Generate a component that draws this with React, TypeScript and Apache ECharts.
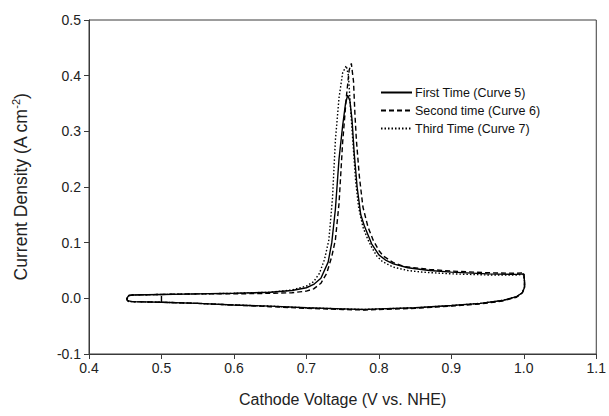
import React, { useEffect, useRef } from "react";
import * as echarts from "echarts";

// Tick labels
const xTicks = [0.4, 0.5, 0.6, 0.7, 0.8, 0.9, 1.0, 1.1];
const yTicks = [-0.1, 0.0, 0.1, 0.2, 0.3, 0.4, 0.5];

const seriesNames = ["First Time (Curve 5)", "Second time (Curve 6)", "Third Time (Curve 7)"];

// Curve 5 (solid): [voltage, current density]
const curve5: number[][] = [
  [0.5, 0.004], [0.5, -0.007], [0.46, -0.006], [0.453, -0.004], [0.452, 0.0], [0.455, 0.005],
  [0.46, 0.006], [0.5, 0.007], [0.55, 0.008], [0.6, 0.009], [0.65, 0.011], [0.68, 0.014],
  [0.7, 0.019], [0.71, 0.025], [0.72, 0.036], [0.73, 0.065], [0.735, 0.1], [0.74, 0.16],
  [0.745, 0.25], [0.75, 0.31], [0.754, 0.35], [0.757, 0.365], [0.76, 0.355], [0.763, 0.32],
  [0.766, 0.26], [0.77, 0.2], [0.775, 0.15], [0.78, 0.13], [0.79, 0.098], [0.8, 0.078],
  [0.81, 0.068], [0.82, 0.062], [0.84, 0.055], [0.87, 0.05], [0.9, 0.047], [0.95, 0.044],
  [0.99, 0.043], [1.0, 0.044], [1.001, 0.03], [1.001, 0.02], [0.998, 0.01], [0.99, 0.003],
  [0.97, -0.004], [0.94, -0.009], [0.9, -0.013], [0.85, -0.017], [0.8, -0.019], [0.78, -0.02],
  [0.75, -0.019], [0.7, -0.017], [0.65, -0.014], [0.6, -0.012], [0.55, -0.009], [0.5, -0.007],
];

// Curve 6 (dashed)
const curve6: number[][] = [
  [0.455, -0.006], [0.452, -0.002], [0.455, 0.005], [0.46, 0.006], [0.5, 0.007], [0.55, 0.008],
  [0.6, 0.008], [0.65, 0.009], [0.68, 0.01], [0.7, 0.013], [0.71, 0.017], [0.72, 0.027],
  [0.728, 0.045], [0.735, 0.075], [0.74, 0.105], [0.745, 0.17], [0.75, 0.28], [0.755, 0.36],
  [0.759, 0.41], [0.762, 0.422], [0.765, 0.39], [0.767, 0.33], [0.769, 0.284], [0.773, 0.22],
  [0.778, 0.164], [0.785, 0.128], [0.792, 0.105], [0.8, 0.086], [0.806, 0.076], [0.82, 0.064],
  [0.835, 0.057], [0.87, 0.052], [0.9, 0.049], [0.95, 0.046], [0.99, 0.045], [1.0, 0.046],
  [1.001, 0.03], [1.001, 0.02], [0.998, 0.01], [0.99, 0.002], [0.97, -0.005], [0.94, -0.01],
  [0.9, -0.014], [0.85, -0.018], [0.8, -0.02], [0.78, -0.021], [0.75, -0.02], [0.7, -0.018],
  [0.65, -0.015], [0.6, -0.012], [0.55, -0.009], [0.5, -0.007], [0.46, -0.006], [0.455, -0.006],
];

// Curve 7 (dotted)
const curve7: number[][] = [
  [0.455, -0.006], [0.452, -0.002], [0.455, 0.005], [0.46, 0.006], [0.5, 0.007], [0.55, 0.008],
  [0.6, 0.009], [0.65, 0.011], [0.68, 0.015], [0.7, 0.022], [0.71, 0.03], [0.718, 0.045],
  [0.725, 0.07], [0.731, 0.105], [0.736, 0.18], [0.74, 0.284], [0.745, 0.36], [0.75, 0.405],
  [0.755, 0.418], [0.758, 0.4], [0.761, 0.34], [0.764, 0.284], [0.768, 0.21], [0.772, 0.164],
  [0.778, 0.128], [0.785, 0.105], [0.79, 0.092], [0.797, 0.076], [0.805, 0.066], [0.82, 0.056],
  [0.84, 0.05], [0.86, 0.047], [0.9, 0.044], [0.95, 0.042], [0.99, 0.042], [1.0, 0.043],
  [1.001, 0.03], [1.001, 0.02], [0.998, 0.01], [0.99, 0.003], [0.97, -0.004], [0.94, -0.009],
  [0.9, -0.013], [0.85, -0.017], [0.8, -0.019], [0.78, -0.02], [0.75, -0.019], [0.7, -0.017],
  [0.65, -0.014], [0.6, -0.012], [0.55, -0.009], [0.5, -0.007], [0.46, -0.006], [0.455, -0.006],
];

const curves = [curve5, curve6, curve7];
const lineTypes: any[] = ["solid", [5, 3], [1.5, 2]];

const FONT = "Liberation Sans, Arial, Helvetica, sans-serif";
const AXIS_COLOR = "#3a3a3a";

export default function App() {
  const ref = useRef<HTMLDivElement>(null);
  useEffect(() => {
    if (!ref.current) return;
    const chart = echarts.init(ref.current, undefined, { renderer: "svg" });
    chart.setOption({
      animation: false,
      backgroundColor: "#ffffff",
      textStyle: { fontFamily: FONT },
      grid: {
        left: 89,
        right: 12,
        top: 20,
        bottom: 62,
        show: true,
        borderColor: AXIS_COLOR,
        borderWidth: 1,
      },
      legend: {
        orient: "vertical",
        left: 375,
        top: 81,
        itemWidth: 31,
        itemHeight: 10,
        itemGap: 5,
        data: seriesNames,
        itemStyle: { opacity: 0 },
        textStyle: { fontSize: 12.5, color: "#111", fontFamily: FONT, padding: [0, 0, 0, -2] },
      },
      xAxis: {
        type: "value",
        min: 0.4,
        max: 1.1,
        interval: 0.1,
        name: "Cathode Voltage (V vs. NHE)",
        nameLocation: "middle",
        nameGap: 37,
        nameTextStyle: { fontSize: 16, color: "#222", fontFamily: FONT },
        axisLine: { show: true, onZero: false, lineStyle: { color: AXIS_COLOR, width: 1 } },
        axisTick: { show: true, inside: false, length: 5, lineStyle: { color: AXIS_COLOR } },
        axisLabel: {
          fontSize: 14,
          color: "#222",
          margin: 7,
          formatter: (v: number) => {
            const t = xTicks.find((x) => Math.abs(x - v) < 1e-6);
            return t === undefined ? "" : t.toFixed(1);
          },
        },
        splitLine: { show: false },
      },
      yAxis: {
        type: "value",
        min: -0.1,
        max: 0.5,
        interval: 0.1,
        name: "Current Density (A cm{sup|-2}{n|)}",
        nameLocation: "middle",
        nameGap: 57,
        nameTextStyle: {
          fontSize: 17.5,
          color: "#222",
          fontFamily: FONT,
          rich: {
            sup: { fontSize: 11, verticalAlign: "top", lineHeight: 22, color: "#222", fontFamily: FONT },
            n: { fontSize: 17.5, color: "#222", fontFamily: FONT },
          },
        },
        axisLine: { show: true, onZero: false, lineStyle: { color: AXIS_COLOR, width: 1 } },
        axisTick: { show: true, inside: false, length: 5, lineStyle: { color: AXIS_COLOR } },
        axisLabel: {
          fontSize: 14,
          color: "#222",
          margin: 8,
          formatter: (v: number) => {
            const t = yTicks.find((y) => Math.abs(y - v) < 1e-6);
            return t === undefined ? "" : t.toFixed(1);
          },
        },
        splitLine: { show: false },
      },
      series: curves.map((c, i) => ({
        name: seriesNames[i],
        type: "line",
        data: c,
        symbol: "none",
        smooth: false,
        lineStyle: { color: "#000", width: 1.4, type: lineTypes[i] },
        itemStyle: { color: "#000" },
        z: 3 - i,
      })),
    });
    return () => chart.dispose();
  }, []);
  return (
    <div
      ref={ref}
      style={{ position: "fixed", left: 0, top: 0, width: 609, height: 416, background: "#fff" }}
    />
  );
}
